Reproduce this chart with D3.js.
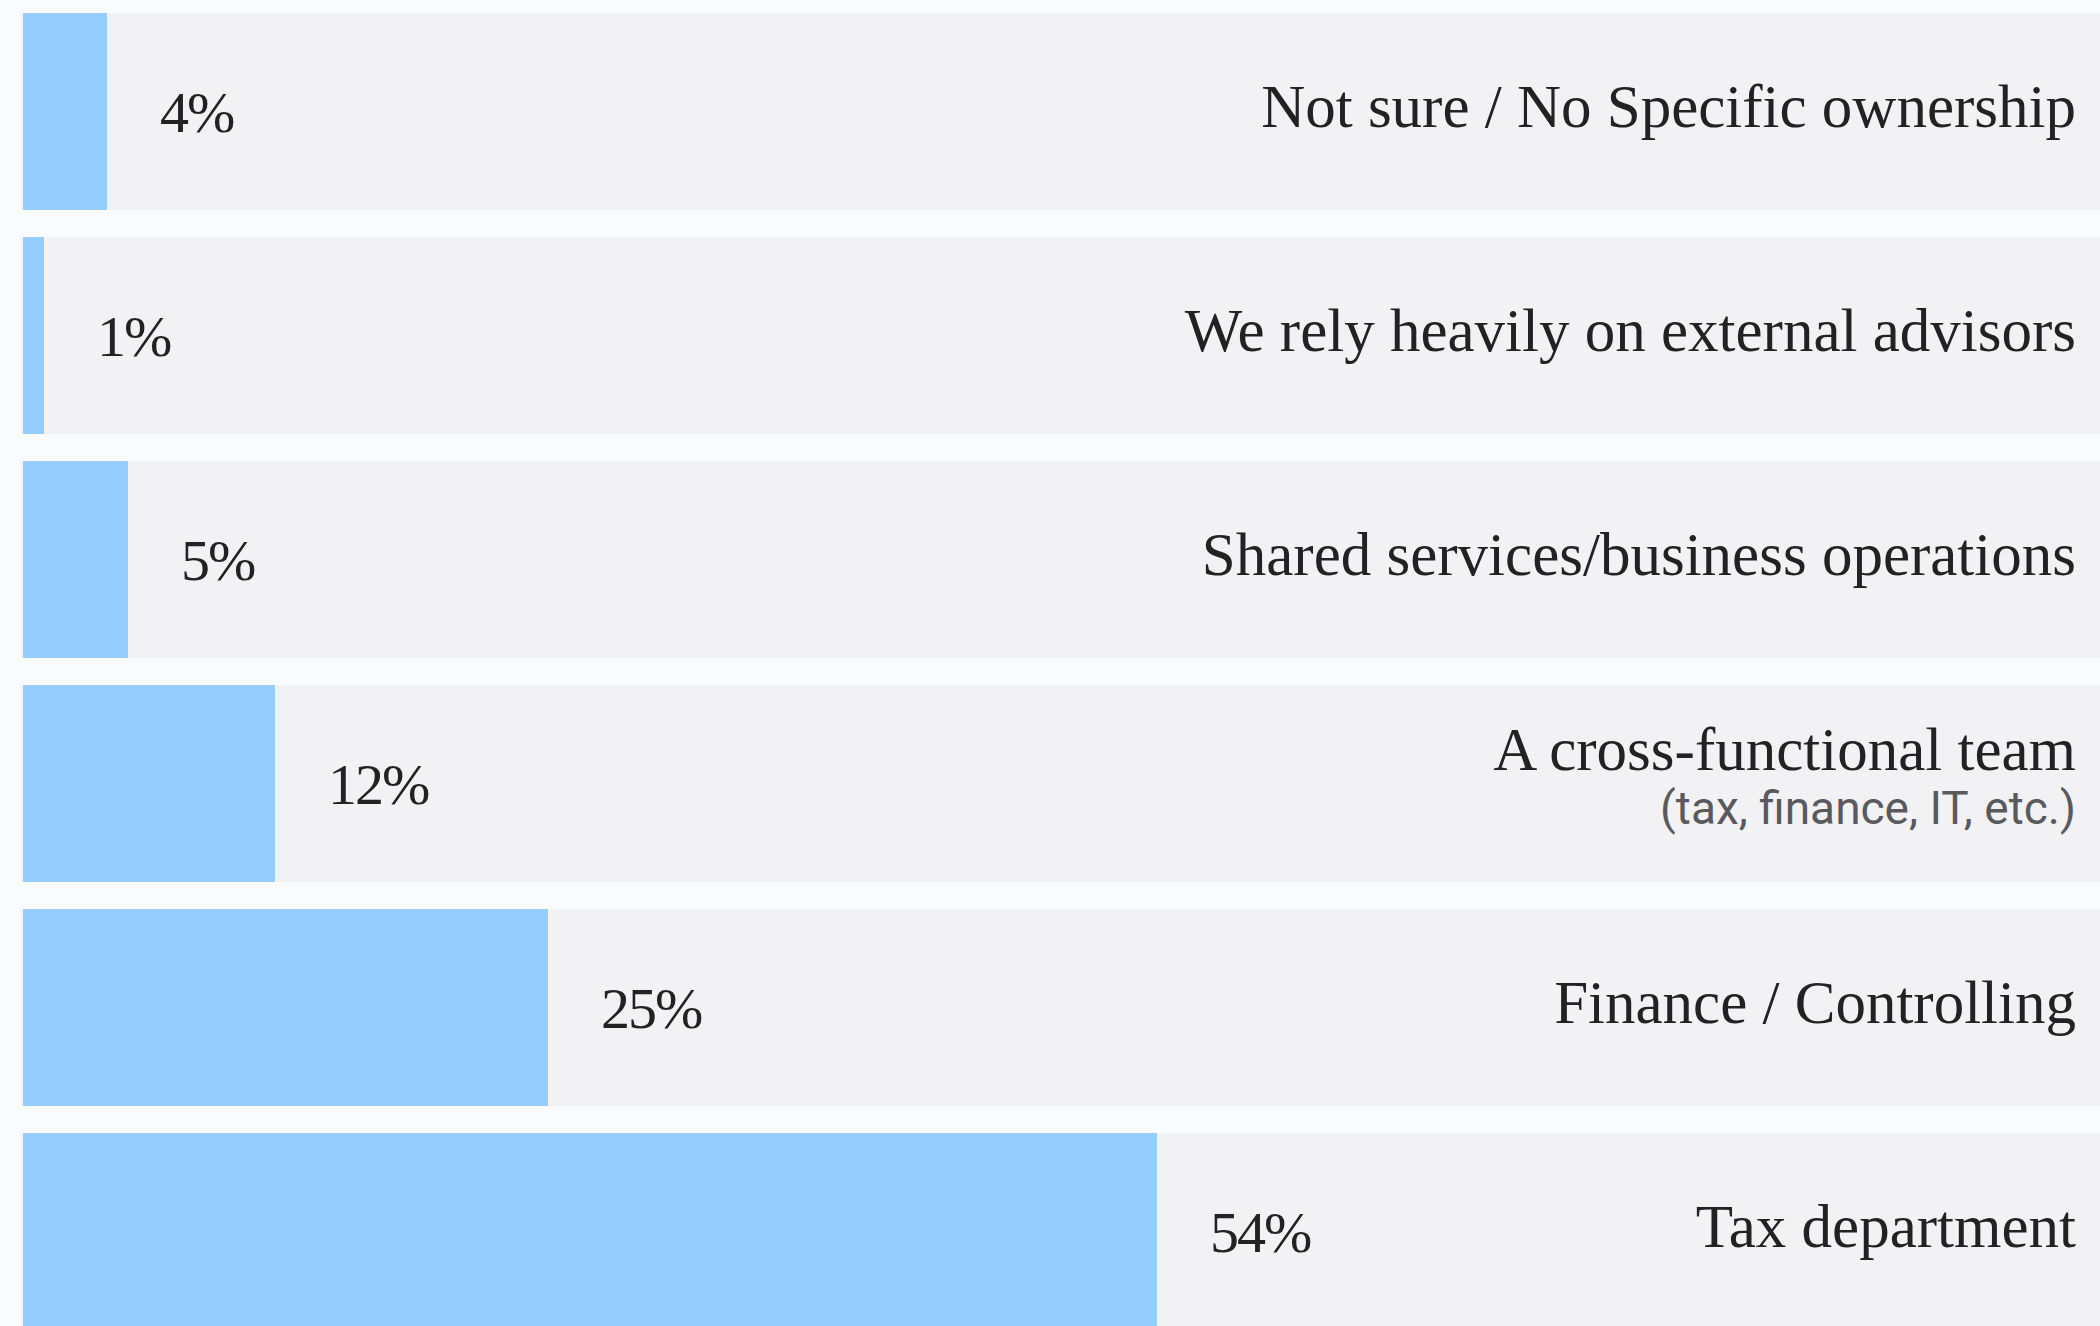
<!DOCTYPE html>
<html>
<head>
<meta charset="utf-8">
<script src="https://cdn.jsdelivr.net/npm/d3@7"></script>
<style>
  html, body { margin: 0; padding: 0; background: #fafbff; }
  svg { display: block; }
</style>
</head>
<body>
<svg id="chart" width="2100" height="1326"></svg>
<script>
// Who owns the topic inside the organisation (share of respondents, %)
const categories = [
  "Not sure / No Specific ownership",
  "We rely heavily on external advisors",
  "Shared services/business operations",
  "A cross-functional team",
  "Finance / Controlling",
  "Tax department"
];
const subLabels = ["", "", "", "(tax, finance, IT, etc.)", "", ""];
const values = [4, 1, 5, 12, 25, 54];

const W = 2100, H = 1326;
const svg = d3.select("#chart");

svg.append("rect").attr("width", W).attr("height", H).attr("fill", "#fafbff");

const x = d3.scaleLinear().domain([0, 100]).range([23, 2123]);
const y = d3.scaleBand()
  .domain(categories)
  .range([13, 13 + 224 * categories.length - 27])
  .paddingInner(27 / 224)
  .paddingOuter(0)
  .align(0);

const rows = svg.append("g").selectAll("g")
  .data(categories.map((c, i) => ({ c, v: values[i], sub: subLabels[i] })))
  .join("g");

// row track
rows.append("rect")
  .attr("x", 21)
  .attr("y", d => y(d.c))
  .attr("width", W - 21)
  .attr("height", y.bandwidth())
  .attr("fill", "#f2f2f5");

// value bar
rows.append("rect")
  .attr("x", x(0))
  .attr("y", d => y(d.c))
  .attr("width", d => x(d.v) - x(0))
  .attr("height", y.bandwidth())
  .attr("fill", "#95cdff");

const serif = "'Liberation Serif', 'DejaVu Serif', serif";

// percentage labels
rows.append("text")
  .attr("x", d => x(d.v) + 53)
  .attr("y", d => y(d.c) + y.bandwidth() / 2 + 20)
  .attr("font-family", serif)
  .attr("font-size", 58)
  .attr("letter-spacing", -2)
  .attr("fill", "#222")
  .text(d => d.v + "%");

// category labels, right-aligned
rows.append("text")
  .attr("x", 2076)
  .attr("y", d => y(d.c) + y.bandwidth() / 2 + (d.sub ? -14 : 15))
  .attr("text-anchor", "end")
  .attr("font-family", serif)
  .attr("font-size", 61)
  .attr("fill", "#222")
  .text(d => d.c);

// secondary line under a category
rows.filter(d => d.sub).append("text")
  .attr("x", 2076)
  .attr("y", d => y(d.c) + y.bandwidth() / 2 + 40)
  .attr("text-anchor", "end")
  .attr("font-family", "Roboto, 'Open Sans', sans-serif")
  .attr("font-size", 46)
  .attr("fill", "#5a5a5e")
  .text(d => d.sub);
</script>
</body>
</html>
